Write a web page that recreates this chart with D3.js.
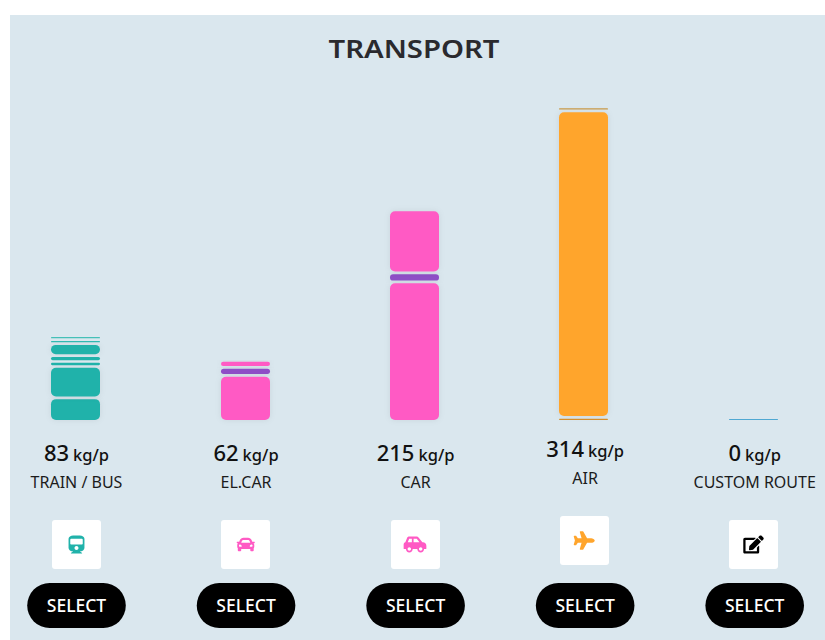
<!DOCTYPE html>
<html><head><meta charset="utf-8">
<style>
html,body{margin:0;padding:0;background:#fff}
svg{display:block}
text{font-family:"Noto Sans","Open Sans",sans-serif}
</style>
<script src="https://cdn.jsdelivr.net/npm/d3@7"></script>
</head><body>
<svg id="c" width="825" height="640"></svg>
<script>
const title = "TRANSPORT";
const categories = ["TRAIN / BUS","EL.CAR","CAR","AIR","CUSTOM ROUTE"];
const totals = [83,62,215,314,0];
const unit = "kg/p";
const buttonLabel = "SELECT";
const trainSegments = [21,31.5,5,6,12,4,4];
const trainColors = ["#20b2aa","#20b2aa","#20b2aa","#20b2aa","#20b2aa","#30b9b1","#45c0b8"];
const elCarSegments = [43.6,8,7];
const elCarColors = ["#ff5ac4","#8e4ec6","#ff5ac4"];
const carSegments = [137.6,9.1,63.3];
const carColors = ["#ff5ac4","#8e4ec6","#ff5ac4"];
const airSegments = [1.3,308.4,4];
const airColors = ["#d8902c","#ffa52c","#c99a48"];
const customSegments = [0];
const customColors = ["#4fa8d2"];
const segments = [trainSegments,elCarSegments,carSegments,airSegments,customSegments];
const colors = [trainColors,elCarColors,carColors,airColors,customColors];
const iconColors = ["#20b2aa","#ff5ac4","#ff5ac4","#ffa52c","#000000"];
const liftedColumn = "AIR";

const icons = [
 {w:448,h:512,s:0.0355,d:"M448 96v256c0 51.815-61.624 96-130.022 96l62.98 49.721C386.905 502.417 383.562 512 376 512H72c-7.578 0-10.892-9.594-4.957-14.279L130.022 448C61.82 448 0 403.954 0 352V96C0 42.981 64 0 128 0h192c65 0 128 42.981 128 96zm-48 136V120c0-13.255-10.745-24-24-24H72c-13.255 0-24 10.745-24 24v112c0 13.255 10.745 24 24 24h304c13.255 0 24-10.745 24-24zm-176 64c-30.928 0-56 25.072-56 56s25.072 56 56 56 56-25.072 56-56-25.072-56-56-56z"},
 {w:512,h:512,s:0.0355,d:"M499.99 176h-59.87l-16.64-41.6C406.38 91.63 365.57 64 319.5 64h-127c-46.06 0-86.88 27.63-103.99 70.4L71.87 176H12.01C4.2 176-1.53 183.34.37 190.91l6 24C7.7 220.25 12.5 224 18.01 224h20.07C24.65 235.73 16 252.78 16 272v48c0 16.12 6.16 30.67 16 41.93V416c0 17.67 14.33 32 32 32h32c17.67 0 32-14.33 32-32v-32h256v32c0 17.67 14.33 32 32 32h32c17.67 0 32-14.33 32-32v-54.07c9.84-11.25 16-25.8 16-41.93v-48c0-19.22-8.65-36.27-22.07-48H494c5.51 0 10.31-3.75 11.64-9.09l6-24c1.89-7.57-3.84-14.91-11.65-14.91zm-352.06-17.83c7.29-18.22 24.94-30.17 44.57-30.17h127c19.63 0 37.28 11.95 44.57 30.17L384 208H128l19.93-49.83zM96 319.8c-19.2 0-32-12.76-32-31.9S76.8 256 96 256s48 28.71 48 47.85-28.8 15.95-48 15.95zm320 0c-19.2 0-48 3.19-48-15.95S396.8 256 416 256s32 12.76 32 31.9-12.8 31.9-32 31.9z"},
 {w:640,h:512,s:0.0355,d:"M544 192h-16L419.22 56.02A64.025 64.025 0 0 0 369.24 32H155.33c-26.17 0-49.7 15.93-59.42 40.23L48 194.26C20.44 201.4 0 226.21 0 256v112c0 8.84 7.16 16 16 16h48c0 53.02 42.98 96 96 96s96-42.98 96-96h128c0 53.02 42.98 96 96 96s96-42.98 96-96h48c8.84 0 16-7.16 16-16v-80c0-53.02-42.98-96-96-96zM160 432c-26.47 0-48-21.53-48-48s21.53-48 48-48 48 21.53 48 48-21.53 48-48 48zm72-240H116.93l38.4-96H232v96zm48 0V96h89.24l76.8 96H280zm200 240c-26.47 0-48-21.53-48-48s21.53-48 48-48 48 21.53 48 48-21.53 48-48 48z"},
 {w:576,h:512,s:0.0365,d:"M480 192H365.71L260.61 8.06A16.014 16.014 0 0 0 246.71 0h-65.5c-10.63 0-18.3 10.17-15.38 20.39L214.86 192H112l-43.2-57.6c-3.02-4.03-7.77-6.4-12.8-6.4H16.01C5.6 128-2.04 137.78.49 147.88L32 256 .49 364.12C-2.04 374.22 5.6 384 16.01 384H56c5.04 0 9.78-2.37 12.8-6.4L112 320h102.86l-49.03 171.6c-2.92 10.22 4.75 20.4 15.38 20.4h65.5c5.74 0 11.04-3.08 13.89-8.06L365.71 320H480c35.35 0 96-28.65 96-64s-60.65-64-96-64z"},
 {w:576,h:512,s:0.0355,d:"M402.6 83.2l90.2 90.2c3.8 3.8 3.8 10 0 13.8L274.4 405.6l-92.8 10.3c-12.4 1.4-22.9-9.1-21.5-21.5l10.3-92.8L388.8 83.2c3.8-3.8 10-3.8 13.8 0zm162-22.9l-48.8-48.8c-15.2-15.2-39.9-15.2-55.2 0l-35.4 35.4c-3.8 3.8-3.8 10 0 13.8l90.2 90.2c3.8 3.8 10 3.8 13.8 0l35.4-35.4c15.2-15.3 15.2-40 0-55.2zM384 346.2V448H64V128h229.8c3.2 0 6.2-1.3 8.5-3.5l40-40c7.6-7.6 2.2-20.5-8.5-20.5H48C21.5 64 0 85.5 0 112v352c0 26.5 21.5 48 48 48h352c26.5 0 48-21.5 48-48V306.2c0-10.7-12.9-16-20.5-8.5l-40 40c-2.2 2.3-3.5 5.3-3.5 8.5z"}
];

const svg = d3.select("#c");
const defs = svg.append("defs");
const f = defs.append("filter").attr("id","sh").attr("x","-30%").attr("y","-30%").attr("width","160%").attr("height","160%").attr("color-interpolation-filters","sRGB");
f.append("feDropShadow").attr("dx",0).attr("dy",0).attr("stdDeviation",3).attr("flood-color","#000").attr("flood-opacity",0.07);

svg.append("rect").attr("x",10).attr("y",15).attr("width",815).attr("height",625).attr("fill","#dae7ee");
svg.append("text").attr("x",414).attr("y",58).attr("text-anchor","middle")
  .attr("font-size",26).attr("font-weight",600).attr("fill","#2a2a2e")
  .attr("textLength",171).attr("lengthAdjust","spacingAndGlyphs").text(title);

const y = d3.scaleLinear().domain([0,314]).range([420,108]);
const xBar = d3.scalePoint().domain(categories).range([75.6,753.4]);
const xIcon = d3.scalePoint().domain(categories).range([76.5,753.5]);
const xBtn = d3.scalePoint().domain(categories).range([76.5,754.7]);
const barW = 49, gap = 2.7;
const segBottom = d => y(d.c0)-(d.j>0?gap:0);
const segHeight = d => Math.max(1,segBottom(d)-y(d.c1));

const cols = svg.selectAll("g.col").data(categories).join("g").attr("class","col");

cols.each(function(cat,i){
  const g = d3.select(this);
  const lift = cat===liftedColumn ? -4 : 0;
  const left = Math.round(xBar(cat)-barW/2);
  const stack = [];
  let c = 0;
  segments[i].forEach((v,j)=>{ stack.push({c0:c,c1:c+v,color:colors[i][j],j}); c+=v; });
  g.append("g").selectAll("rect").data(stack).join("rect")
    .attr("x",left).attr("width",barW)
    .attr("y",d=>segBottom(d)-segHeight(d))
    .attr("height",segHeight)
    .attr("rx",d=>Math.min(5,segHeight(d)/2))
    .attr("filter",d=>segHeight(d)>4?"url(#sh)":null)
    .attr("fill",d=>d.color);

  const cx = xBtn(cat);
  const t = g.append("text").attr("x",cx).attr("y",461+lift).attr("text-anchor","middle").attr("fill","#111");
  t.append("tspan").attr("font-size",22).attr("font-weight",500).text(totals[i]);
  t.append("tspan").attr("font-size",16.5).attr("font-weight",500).attr("dx",4).text(unit);
  g.append("text").attr("x",cx).attr("y",488+lift).attr("text-anchor","middle")
    .attr("font-size",16).attr("fill","#1c1c1c").text(cat);

  const ic = xIcon(cat);
  g.append("rect").attr("x",Math.round(ic-24.5)).attr("y",520+lift).attr("width",49).attr("height",49).attr("rx",3).attr("fill","#fff");
  const ico = icons[i];
  g.append("path").attr("d",ico.d).attr("fill",iconColors[i])
    .attr("transform",`translate(${ic-ico.w*ico.s/2},${544.5+lift-ico.h*ico.s/2}) scale(${ico.s})`);

  g.append("rect").attr("x",cx-49.3).attr("y",583).attr("width",98.6).attr("height",45).attr("rx",22.5).attr("fill","#000");
  g.append("text").attr("x",cx).attr("y",611.5).attr("text-anchor","middle")
    .attr("font-size",17.5).attr("font-weight",500).attr("fill","#fff").text(buttonLabel);
});
</script>
</body></html>
